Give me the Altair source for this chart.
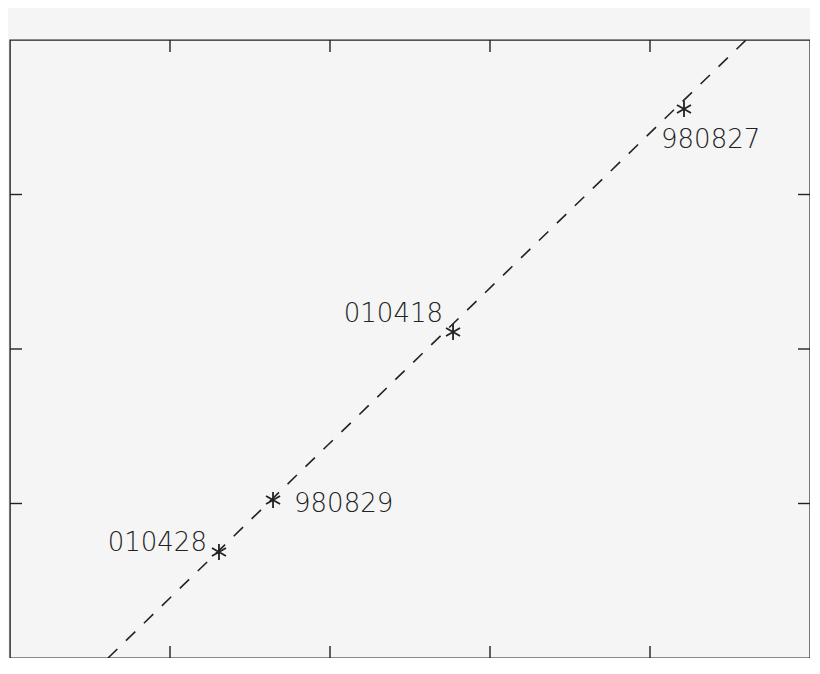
import altair as alt
import pandas as pd

# data
names = ["980827", "010418", "980829", "010428"]
xs = [4.2125, 2.769, 1.644, 1.306]
ys = [3.553, 2.110, 1.023, 0.686]
fit_x = [0.6125, 4.60]
fit_y = [0.0, 4.0]
xticks = [1, 2, 3, 4]
yticks = [1, 2, 3]

pts = pd.DataFrame({"name": names, "x": xs, "y": ys})
fit = pd.DataFrame({"x": fit_x, "y": fit_y})
xt = pd.DataFrame({"v": xticks})
yt = pd.DataFrame({"v": yticks})

xs_ = alt.Scale(domain=[0, 5], nice=False, zero=False)
ys_ = alt.Scale(domain=[0, 4], nice=False, zero=False)
X = lambda f: alt.X(f, type="quantitative", scale=xs_, axis=None)
Y = lambda f: alt.Y(f, type="quantitative", scale=ys_, axis=None)

ink = "#222222"
W, H = 800, 618
tl = 12

line = alt.Chart(fit).mark_line(color=ink, strokeWidth=1.6, strokeDash=[13, 12], clip=True).encode(
    x=X("x"), y=Y("y"))

star = "M0,-1L0,1M-0.87,-0.5L0.87,0.5M-0.87,0.5L0.87,-0.5"
points = alt.Chart(pts).mark_point(shape=star, size=260, filled=False, color=ink,
                                   strokeWidth=1.8, opacity=1).encode(x=X("x"), y=Y("y"))

font = dict(font="DejaVu Sans", fontSize=26, fontWeight=200, color=ink, baseline="alphabetic")
def lab(n, align, dx, dy):
    return alt.Chart(pts).transform_filter(alt.datum.name == n).mark_text(
        align=align, dx=dx, dy=dy, **font).encode(x=X("x"), y=Y("y"), text="name:N")

labels = [
    lab("980827", "left", -23, 39),
    lab("010418", "right", -10, -10),
    lab("980829", "left", 21, 12),
    lab("010428", "right", -12, -1),
]

tick_style = dict(color=ink, strokeWidth=1.4)
top_t = alt.Chart(xt).mark_rule(**tick_style).encode(x=X("v"), y=alt.value(0), y2=alt.value(tl))
bot_t = alt.Chart(xt).mark_rule(**tick_style).encode(x=X("v"), y=alt.value(H), y2=alt.value(H - tl))
left_t = alt.Chart(yt).mark_rule(**tick_style).encode(y=Y("v"), x=alt.value(0), x2=alt.value(tl))
right_t = alt.Chart(yt).mark_rule(**tick_style).encode(y=Y("v"), x=alt.value(W), x2=alt.value(W - tl))

chart = alt.layer(line, points, *labels, top_t, bot_t, left_t, right_t).properties(
    width=W, height=H, background="#f5f5f5",
    padding={"left": 2, "top": 32, "right": 0, "bottom": 0},
    autosize=alt.AutoSizeParams(type="none"),
).configure_view(stroke=ink, strokeWidth=1.4)

chart.save("out.html", embed_options={"renderer": "svg", "actions": False})
